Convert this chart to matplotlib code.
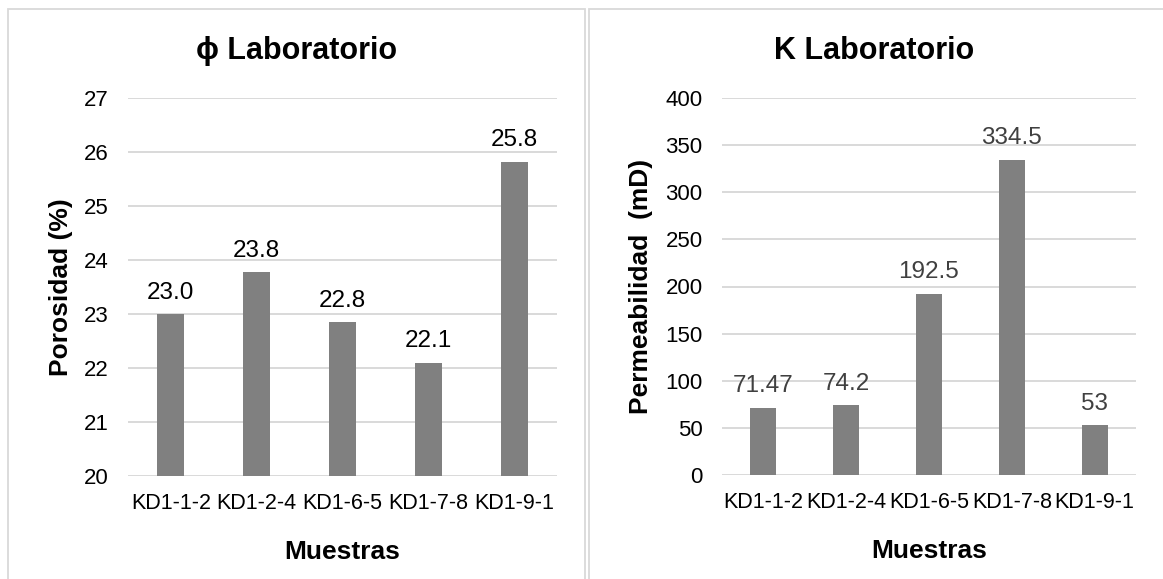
import matplotlib
matplotlib.use('Agg')
import matplotlib.pyplot as plt
from matplotlib.patches import Rectangle

plt.rcParams['font.family'] = ['Liberation Sans', 'DejaVu Sans']

samples = ['KD1-1-2', 'KD1-2-4', 'KD1-6-5', 'KD1-7-8', 'KD1-9-1']
porosity = [23.0, 23.77, 22.85, 22.1, 25.82]
porosity_labels = ['23.0', '23.8', '22.8', '22.1', '25.8']
permeability = [71.47, 74.2, 192.5, 334.5, 53]
permeability_labels = ['71.47', '74.2', '192.5', '334.5', '53']

W, H = 1163, 579
BAR = '#808080'
GRID = '#d9d9d9'


def fx(px):
    return px / W


def fy(py):
    return 1 - py / H


def draw_panel(ax, values, labels, ylim, yticks, ylabel, label_color, ylabel_x):
    x = range(len(values))
    ax.bar(x, values, width=0.315, color=BAR, zorder=3)
    ax.set_xlim(-0.5, len(values) - 0.5)
    ax.set_ylim(*ylim)
    ax.set_yticks(yticks)
    ax.set_xticks(list(x))
    ax.set_xticklabels(samples)
    for s in ax.spines.values():
        s.set_visible(False)
    ax.grid(axis='y', color=GRID, lw=1.4, zorder=0)
    ax.tick_params(axis='both', length=0, colors='black')
    ax.tick_params(axis='y', pad=14, labelsize=16)
    ax.tick_params(axis='x', pad=12, labelsize=15.5)
    for xi, v, t in zip(x, values, labels):
        ax.annotate(t, (xi, v), xytext=(0, 11), textcoords='offset points',
                    ha='center', va='baseline', fontsize=17.5, color=label_color)
    ax.set_ylabel(ylabel, fontsize=19, fontweight='bold')
    ax.set_xlabel('Muestras', fontsize=19, fontweight='bold')
    ax.yaxis.set_label_coords(ylabel_x, 0.5)
    ax.xaxis.set_label_coords(0.5, -0.17)


fig = plt.figure(figsize=(W / 100, H / 100), dpi=100)

# panel frames
fig.patches.append(Rectangle((fx(8), fy(590)), fx(585 - 8), fy(9) - fy(590),
                             transform=fig.transFigure, fill=False, ec=GRID, lw=1.3))
fig.patches.append(Rectangle((fx(589), fy(590)), fx(600), fy(9) - fy(590),
                             transform=fig.transFigure, fill=False, ec=GRID, lw=1.3))

ax1 = fig.add_axes([fx(128), fy(476), fx(557 - 128), fy(98) - fy(476)])
draw_panel(ax1, porosity, porosity_labels, (20, 27), range(20, 28),
           'Porosidad (%)', 'black', -0.128)

ax2 = fig.add_axes([fx(722), fy(475), fx(1136 - 722), fy(98) - fy(475)])
draw_panel(ax2, permeability, permeability_labels, (0, 400), range(0, 401, 50),
           'Permeabilidad  (mD)', '#404040', -0.167)

fig.text(fx(297), fy(51), 'ϕ Laboratorio', ha='center', va='center',
         fontsize=22, fontweight='bold')
fig.text(fx(874), fy(51), 'K Laboratorio', ha='center', va='center',
         fontsize=22, fontweight='bold')

fig.savefig('out.png', dpi=100)
